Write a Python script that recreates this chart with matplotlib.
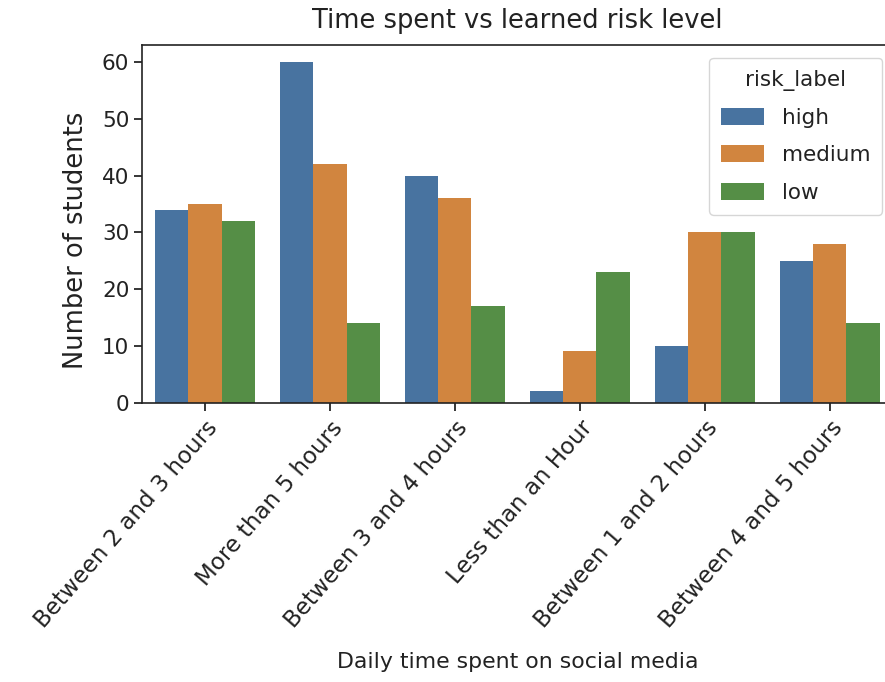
import matplotlib
matplotlib.use("Agg")
import matplotlib.pyplot as plt
import seaborn as sns
import pandas as pd

categories = ["Between 2 and 3 hours", "More than 5 hours", "Between 3 and 4 hours",
              "Less than an Hour", "Between 1 and 2 hours", "Between 4 and 5 hours"]
risk_levels = ["high", "medium", "low"]
high = [34, 60, 40, 2, 10, 25]
medium = [35, 42, 36, 9, 30, 28]
low = [32, 14, 17, 23, 30, 14]
colors = ["#4873a0", "#d1853f", "#558e46"]

rows = []
for lvl, vals in zip(risk_levels, [high, medium, low]):
    for c, v in zip(categories, vals):
        rows.append({"time": c, "risk_label": lvl, "count": v})
df = pd.DataFrame(rows)

plt.rcParams['font.family'] = ['DejaVu Sans']
fig = plt.figure(figsize=(8.85, 6.82), dpi=100)
ax = fig.add_axes([0.161, 0.4098, 0.847, 0.524])
sns.barplot(data=df, x="time", y="count", hue="risk_label", hue_order=risk_levels,
            order=categories, palette=colors, saturation=1, ax=ax)
ax.set_ylim(0, 63)
ax.set_xlim(-0.5, 5.5)
ax.set_title("Time spent vs learned risk level", fontsize=18.5, pad=12, color='#222222')
ax.set_xlabel("Daily time spent on social media", fontsize=15.8, labelpad=14, color='#222222')
ax.set_ylabel("Number of students", fontsize=18.5, color='#222222')
ax.yaxis.set_label_coords(-0.072, 0.455)
ax.tick_params(axis='x', labelsize=16.5, length=6, width=1.1, pad=4, labelcolor='#222222')
ax.tick_params(axis='y', labelsize=15.5, length=6, width=1.1, labelcolor='#222222')
plt.setp(ax.get_xticklabels(), rotation=49, ha='right', rotation_mode='anchor')
for s in ax.spines.values():
    s.set_linewidth(1.2)
    s.set_color('#222222')
leg = ax.legend(title="risk_label", fontsize=15.5, title_fontsize=15.5,
                loc='upper right', bbox_to_anchor=(882/885, 1 - 58/682),
                bbox_transform=fig.transFigure, borderaxespad=0,
                labelspacing=0.82, handlelength=2.0, handleheight=0.85,
                borderpad=0.55)
leg._legend_box.sep = 12
for t in leg.get_texts():
    t.set_color('#222222')
leg.get_title().set_color('#222222')
fig.savefig("out.png", dpi=100)
